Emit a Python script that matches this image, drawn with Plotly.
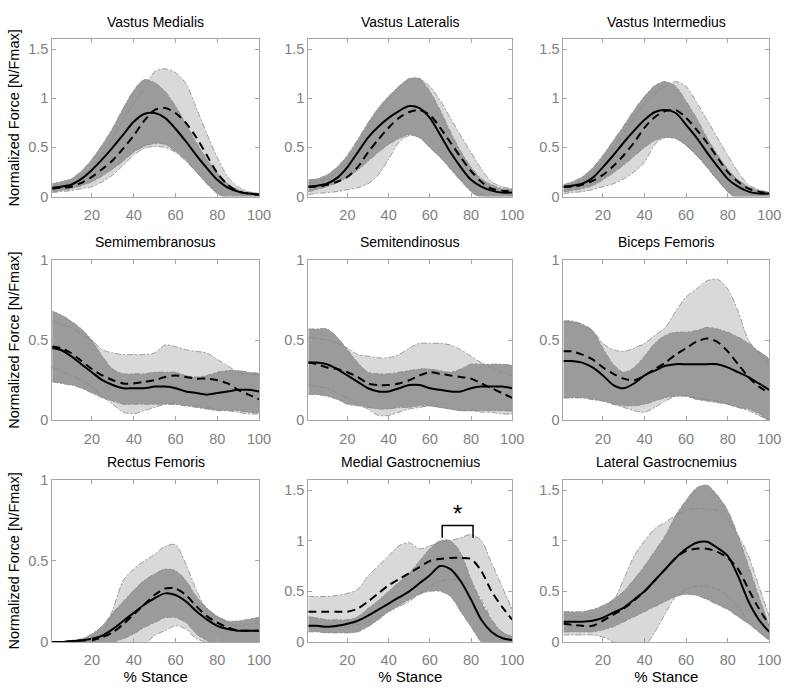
import plotly.graph_objects as go

X = [1, 5, 10, 15, 20, 25, 30, 35, 40, 45, 50, 55, 60, 65, 70, 75, 80, 85, 90, 95, 100]

TITLES = ["Vastus Medialis", "Vastus Lateralis", "Vastus Intermedius",
          "Semimembranosus", "Semitendinosus", "Biceps Femoris",
          "Rectus Femoris", "Medial Gastrocnemius", "Lateral Gastrocnemius"]

# Vastus Medialis
vm_dark_up = [0.13,0.15,0.18,0.26,0.38,0.53,0.70,0.90,1.08,1.19,1.16,1.07,0.92,0.74,0.55,0.38,0.24,0.13,0.07,0.04,0.03]
vm_dark_lo = [0.05,0.06,0.08,0.11,0.15,0.21,0.28,0.36,0.45,0.51,0.54,0.53,0.46,0.37,0.25,0.13,0.03,-0.03,-0.05,-0.05,-0.05]
vm_solid = [0.09,0.10,0.12,0.18,0.27,0.38,0.50,0.63,0.76,0.84,0.85,0.80,0.69,0.56,0.42,0.29,0.17,0.09,0.05,0.03,0.02]
vm_dashed = [0.08,0.09,0.10,0.14,0.20,0.28,0.37,0.49,0.62,0.77,0.88,0.90,0.85,0.75,0.60,0.42,0.24,0.12,0.05,0.03,0.02]
vm_light_up = [0.10,0.12,0.14,0.20,0.30,0.43,0.60,0.78,0.95,1.10,1.27,1.30,1.26,1.15,0.90,0.64,0.40,0.20,0.10,0.05,0.03]
vm_light_lo = [0.04,0.05,0.06,0.08,0.10,0.15,0.22,0.32,0.42,0.49,0.51,0.50,0.45,0.36,0.25,0.14,0.05,-0.02,-0.05,-0.05,-0.05]

# Vastus Lateralis
vl_dark_up = [0.17,0.18,0.22,0.30,0.42,0.58,0.75,0.90,1.02,1.12,1.20,1.20,1.07,0.88,0.66,0.46,0.30,0.18,0.12,0.08,0.07]
vl_dark_lo = [0.05,0.07,0.10,0.14,0.20,0.27,0.36,0.45,0.53,0.59,0.63,0.60,0.50,0.40,0.28,0.16,0.05,-0.02,-0.05,-0.05,-0.05]
vl_solid = [0.10,0.11,0.13,0.19,0.30,0.45,0.60,0.71,0.80,0.87,0.92,0.90,0.80,0.63,0.45,0.30,0.17,0.10,0.06,0.04,0.04]
vl_dashed = [0.10,0.10,0.12,0.15,0.20,0.30,0.45,0.58,0.70,0.80,0.86,0.88,0.83,0.70,0.55,0.40,0.26,0.15,0.08,0.06,0.05]
vl_light_up = [0.14,0.15,0.18,0.25,0.35,0.52,0.70,0.86,1.00,1.12,1.19,1.20,1.12,0.98,0.80,0.62,0.45,0.28,0.15,0.10,0.08]
vl_light_lo = [0.02,0.03,0.04,0.05,0.07,0.09,0.13,0.22,0.38,0.55,0.62,0.60,0.50,0.40,0.30,0.18,0.08,0.02,-0.02,-0.05,-0.05]

# Vastus Intermedius
vi_dark_up = [0.12,0.15,0.20,0.29,0.42,0.57,0.72,0.88,1.02,1.13,1.17,1.12,0.97,0.80,0.60,0.43,0.28,0.17,0.10,0.06,0.04]
vi_dark_lo = [0.05,0.06,0.08,0.11,0.17,0.24,0.32,0.41,0.50,0.57,0.60,0.59,0.52,0.42,0.30,0.17,0.05,-0.03,-0.05,-0.05,-0.05]
vi_solid = [0.10,0.11,0.13,0.19,0.30,0.42,0.55,0.67,0.78,0.86,0.88,0.85,0.73,0.60,0.45,0.31,0.18,0.10,0.05,0.03,0.03]
vi_dashed = [0.10,0.10,0.12,0.16,0.22,0.31,0.42,0.55,0.70,0.81,0.87,0.88,0.80,0.68,0.55,0.40,0.25,0.15,0.08,0.05,0.03]
vi_light_up = [0.10,0.12,0.16,0.24,0.35,0.50,0.65,0.80,0.95,1.05,1.12,1.17,1.12,0.96,0.78,0.60,0.42,0.25,0.12,0.07,0.04]
vi_light_lo = [0.03,0.04,0.05,0.07,0.10,0.13,0.18,0.25,0.35,0.53,0.60,0.59,0.52,0.42,0.30,0.17,0.05,-0.03,-0.05,-0.05,-0.05]

# Semimembranosus
sm_dark_up = [0.68,0.66,0.62,0.57,0.50,0.40,0.32,0.29,0.29,0.29,0.30,0.30,0.30,0.28,0.27,0.28,0.30,0.31,0.31,0.30,0.29]
sm_dark_lo = [0.24,0.23,0.22,0.20,0.17,0.14,0.12,0.10,0.10,0.10,0.10,0.10,0.10,0.09,0.08,0.07,0.06,0.06,0.06,0.05,0.05]
sm_solid = [0.45,0.44,0.40,0.35,0.30,0.25,0.22,0.20,0.20,0.20,0.21,0.21,0.20,0.18,0.17,0.16,0.17,0.18,0.19,0.19,0.18]
sm_dashed = [0.46,0.45,0.42,0.37,0.32,0.28,0.25,0.23,0.23,0.24,0.25,0.27,0.28,0.27,0.26,0.26,0.25,0.23,0.19,0.16,0.13]
sm_light_up = [0.62,0.60,0.58,0.54,0.50,0.44,0.42,0.41,0.41,0.41,0.42,0.47,0.46,0.44,0.43,0.42,0.38,0.34,0.30,0.29,0.28]
sm_light_lo = [0.33,0.31,0.28,0.25,0.21,0.15,0.10,0.05,0.04,0.06,0.08,0.10,0.10,0.09,0.09,0.08,0.07,0.06,0.05,0.04,0.04]

# Semitendinosus
st_dark_up = [0.57,0.57,0.57,0.52,0.44,0.36,0.30,0.29,0.29,0.30,0.31,0.32,0.32,0.31,0.30,0.32,0.35,0.35,0.35,0.35,0.34]
st_dark_lo = [0.16,0.16,0.15,0.13,0.10,0.09,0.08,0.07,0.07,0.08,0.08,0.09,0.09,0.08,0.07,0.06,0.06,0.06,0.06,0.06,0.06]
st_solid = [0.36,0.36,0.35,0.32,0.28,0.24,0.20,0.18,0.18,0.20,0.22,0.22,0.20,0.19,0.18,0.18,0.20,0.21,0.21,0.21,0.20]
st_dashed = [0.36,0.35,0.33,0.32,0.30,0.27,0.23,0.22,0.22,0.23,0.25,0.28,0.30,0.29,0.28,0.27,0.26,0.23,0.20,0.17,0.14]
st_light_up = [0.52,0.51,0.50,0.48,0.45,0.41,0.40,0.39,0.39,0.41,0.45,0.48,0.48,0.48,0.47,0.44,0.40,0.36,0.33,0.30,0.28]
st_light_lo = [0.22,0.21,0.20,0.17,0.14,0.10,0.07,0.03,0.03,0.05,0.07,0.08,0.09,0.08,0.07,0.06,0.06,0.05,0.05,0.04,0.04]

# Biceps Femoris
bf_dark_up = [0.62,0.62,0.60,0.56,0.45,0.35,0.30,0.33,0.40,0.48,0.53,0.55,0.55,0.56,0.58,0.57,0.55,0.52,0.48,0.43,0.38]
bf_dark_lo = [0.14,0.14,0.14,0.13,0.12,0.10,0.09,0.09,0.10,0.12,0.14,0.15,0.15,0.13,0.12,0.11,0.10,0.08,0.07,0.04,0.00]
bf_solid = [0.37,0.37,0.36,0.33,0.28,0.22,0.20,0.23,0.28,0.31,0.34,0.35,0.35,0.35,0.35,0.35,0.33,0.30,0.27,0.23,0.19]
bf_dashed = [0.43,0.43,0.41,0.38,0.33,0.29,0.26,0.25,0.28,0.32,0.36,0.41,0.45,0.49,0.51,0.49,0.43,0.35,0.27,0.21,0.17]
bf_light_up = [0.61,0.61,0.60,0.56,0.48,0.44,0.43,0.45,0.48,0.53,0.58,0.68,0.77,0.82,0.87,0.88,0.82,0.68,0.50,0.42,0.35]
bf_light_lo = [0.14,0.14,0.14,0.13,0.12,0.10,0.08,0.06,0.05,0.08,0.12,0.15,0.15,0.14,0.13,0.12,0.10,0.08,0.06,0.03,0.00]

# Rectus Femoris
rf_dark_up = [0.00,0.00,0.01,0.02,0.05,0.10,0.18,0.25,0.32,0.38,0.42,0.45,0.44,0.38,0.28,0.21,0.16,0.13,0.13,0.14,0.15]
rf_dark_lo = [0.00,0.00,0.00,0.00,0.00,-0.01,0.00,0.02,0.05,0.09,0.12,0.15,0.15,0.12,0.05,0.01,-0.01,-0.02,-0.02,-0.02,-0.02]
rf_solid = [0.00,0.00,0.005,0.01,0.02,0.04,0.08,0.13,0.18,0.23,0.27,0.30,0.29,0.25,0.19,0.14,0.10,0.08,0.07,0.07,0.07]
rf_dashed = [0.00,0.00,0.005,0.01,0.01,0.03,0.06,0.11,0.17,0.23,0.29,0.33,0.33,0.29,0.22,0.16,0.12,0.09,0.07,0.07,0.07]
rf_light_up = [0.00,0.00,0.00,0.01,0.01,0.05,0.20,0.38,0.45,0.50,0.54,0.59,0.60,0.48,0.32,0.20,0.15,0.12,0.10,0.11,0.12]
rf_light_lo = [0.00,0.00,0.00,0.00,0.00,-0.03,-0.10,-0.10,-0.06,-0.02,0.04,0.07,0.10,0.08,0.02,0.00,-0.01,-0.02,-0.02,-0.02,-0.02]

# Medial Gastrocnemius
mg_dark_up = [0.25,0.24,0.22,0.22,0.22,0.25,0.33,0.41,0.50,0.59,0.68,0.80,0.92,1.00,1.00,0.88,0.62,0.40,0.22,0.10,0.05]
mg_dark_lo = [0.10,0.10,0.09,0.09,0.09,0.10,0.15,0.22,0.30,0.36,0.42,0.47,0.50,0.50,0.45,0.30,0.15,0.00,-0.05,-0.05,-0.05]
mg_solid = [0.16,0.16,0.15,0.16,0.18,0.21,0.26,0.32,0.38,0.44,0.50,0.58,0.66,0.75,0.72,0.60,0.42,0.22,0.10,0.04,0.02]
mg_dashed = [0.30,0.30,0.30,0.30,0.30,0.33,0.40,0.48,0.56,0.62,0.68,0.74,0.80,0.82,0.83,0.83,0.82,0.70,0.50,0.35,0.22]
mg_light_up = [0.45,0.45,0.45,0.46,0.48,0.52,0.65,0.75,0.85,0.95,0.98,0.92,0.95,0.98,1.00,1.03,1.06,1.00,0.78,0.55,0.32]
mg_light_lo = [0.15,0.15,0.15,0.15,0.15,0.17,0.20,0.25,0.30,0.35,0.40,0.48,0.55,0.60,0.62,0.60,0.55,0.42,0.22,0.10,0.05]

# Lateral Gastrocnemius
lg_dark_up = [0.30,0.30,0.30,0.32,0.36,0.42,0.50,0.62,0.75,0.90,1.05,1.25,1.40,1.52,1.55,1.45,1.30,1.05,0.75,0.45,0.15]
lg_dark_lo = [0.10,0.10,0.10,0.10,0.12,0.15,0.20,0.25,0.30,0.35,0.40,0.45,0.47,0.46,0.42,0.37,0.32,0.25,0.18,0.10,0.02]
lg_solid = [0.20,0.20,0.20,0.21,0.24,0.29,0.34,0.42,0.50,0.61,0.72,0.83,0.92,0.98,0.99,0.93,0.85,0.65,0.40,0.22,0.10]
lg_dashed = [0.18,0.17,0.16,0.16,0.21,0.27,0.33,0.41,0.50,0.61,0.72,0.83,0.90,0.92,0.92,0.89,0.83,0.72,0.52,0.33,0.17]
lg_light_up = [0.27,0.26,0.25,0.25,0.28,0.40,0.62,0.85,1.00,1.12,1.18,1.25,1.30,1.32,1.31,1.30,1.20,1.05,0.85,0.55,0.25]
lg_light_lo = [0.07,0.07,0.07,0.07,0.05,0.00,-0.10,-0.12,-0.05,0.10,0.28,0.45,0.52,0.55,0.55,0.52,0.45,0.35,0.20,0.10,0.05]

Y_MAX = [1.6, 1.6, 1.6, 1.0, 1.0, 1.0, 1.0, 1.6, 1.6]
Y_TICKS_BIG = [0, 0.5, 1, 1.5]
Y_TICKS_SMALL = [0, 0.5, 1]
X_TICKS = [20, 40, 60, 80, 100]

# significance bracket (Medial Gastrocnemius)
sig_x = [66, 66, 81, 81]
sig_y = [1.03, 1.15, 1.15, 1.03]
sig_star = (73.5, 1.27)

PANELS = [
    (vm_dark_up, vm_dark_lo, vm_solid, vm_dashed, vm_light_up, vm_light_lo),
    (vl_dark_up, vl_dark_lo, vl_solid, vl_dashed, vl_light_up, vl_light_lo),
    (vi_dark_up, vi_dark_lo, vi_solid, vi_dashed, vi_light_up, vi_light_lo),
    (sm_dark_up, sm_dark_lo, sm_solid, sm_dashed, sm_light_up, sm_light_lo),
    (st_dark_up, st_dark_lo, st_solid, st_dashed, st_light_up, st_light_lo),
    (bf_dark_up, bf_dark_lo, bf_solid, bf_dashed, bf_light_up, bf_light_lo),
    (rf_dark_up, rf_dark_lo, rf_solid, rf_dashed, rf_light_up, rf_light_lo),
    (mg_dark_up, mg_dark_lo, mg_solid, mg_dashed, mg_light_up, mg_light_lo),
    (lg_dark_up, lg_dark_lo, lg_solid, lg_dashed, lg_light_up, lg_light_lo),
]

W, H = 800, 694
COL_PX = [(53, 263), (313, 520), (572, 781)]
ROW_PX = [(32, 193), (258, 422), (483, 649)]

LIGHT = "#d9d9d9"
DARK = "#9b9b9b"
EDGE = "#8a8a8a"
FONT = "Arial, Liberation Sans, sans-serif"

fig = go.Figure()
layout = dict(width=W, height=H, margin=dict(l=0, r=0, t=0, b=0),
              paper_bgcolor="white", plot_bgcolor="white", showlegend=False)
annotations = []

for i, (dup, dlo, solid, dashed, lup, llo) in enumerate(PANELS):
    r, c = divmod(i, 3)
    k = "" if i == 0 else str(i + 1)
    xa, ya = "x" + k, "y" + k
    x0, x1 = COL_PX[c]
    y0, y1 = ROW_PX[r]
    layout["xaxis" + k] = dict(
        domain=[x0 / W, x1 / W], anchor=ya, range=[1, 100], tickvals=X_TICKS,
        showline=True, linecolor="#a6a6a6", linewidth=1, mirror="ticks",
        ticks="inside", ticklen=4, tickcolor="#a6a6a6", showgrid=False, zeroline=False,
        ticklabelstandoff=5,
        tickfont=dict(family=FONT, size=14.5, color="#7f7f7f"),
        title=dict(text="% Stance" if r == 2 else "", font=dict(family=FONT, size=15, color="black"), standoff=2),
    )
    yt = Y_TICKS_BIG if Y_MAX[i] > 1.2 else Y_TICKS_SMALL
    layout["yaxis" + k] = dict(
        domain=[1 - y1 / H, 1 - y0 / H], anchor=xa, range=[0, Y_MAX[i]], tickvals=yt,
        ticktext=[("%g" % v) for v in yt],
        showline=True, linecolor="#a6a6a6", linewidth=1, mirror="ticks",
        ticks="inside", ticklen=4, tickcolor="#a6a6a6", showgrid=False, zeroline=False,
        tickfont=dict(family=FONT, size=14.5, color="#7f7f7f"),
        title=dict(text="Normalized Force [N/Fmax]" if c == 0 else "", font=dict(family=FONT, size=14.5, color="black"), standoff=5),
    )
    # bands
    for up, lo, col in ((lup, llo, LIGHT), (dup, dlo, DARK)):
        fig.add_trace(go.Scatter(x=X + X[::-1], y=up + lo[::-1], fill="toself", fillcolor=col,
                                 mode="lines", line=dict(width=0, shape="spline", smoothing=0.8),
                                 xaxis=xa, yaxis=ya, hoverinfo="skip"))
    for arr in (lup, llo, dup, dlo):
        fig.add_trace(go.Scatter(x=X, y=arr, mode="lines",
                                 line=dict(color=EDGE, width=0.8, dash="6px,2px,2px,2px", shape="spline", smoothing=0.8),
                                 xaxis=xa, yaxis=ya, hoverinfo="skip"))
    fig.add_trace(go.Scatter(x=X, y=dashed, mode="lines",
                             line=dict(color="black", width=2, dash="8px,5px", shape="spline", smoothing=0.8),
                             xaxis=xa, yaxis=ya))
    fig.add_trace(go.Scatter(x=X, y=solid, mode="lines",
                             line=dict(color="black", width=2, shape="spline", smoothing=0.8),
                             xaxis=xa, yaxis=ya))
    annotations.append(dict(text=TITLES[i], x=(x0 + x1) / 2 / W, y=1 - (y0 - 18) / H,
                            xref="paper", yref="paper", xanchor="center", yanchor="middle",
                            showarrow=False, font=dict(family=FONT, size=14, color="black")))
    if i == 7:
        fig.add_trace(go.Scatter(x=sig_x, y=sig_y, mode="lines", line=dict(color="black", width=1.5),
                                 xaxis=xa, yaxis=ya, hoverinfo="skip"))
        annotations.append(dict(text="*", x=sig_star[0], y=sig_star[1], xref=xa, yref=ya,
                                showarrow=False, font=dict(family=FONT, size=24, color="black")))

layout["annotations"] = annotations
fig.update_layout(**layout)
fig.write_html("out.html", config={"displayModeBar": False},
               post_script="document.body.style.margin='0px';")
